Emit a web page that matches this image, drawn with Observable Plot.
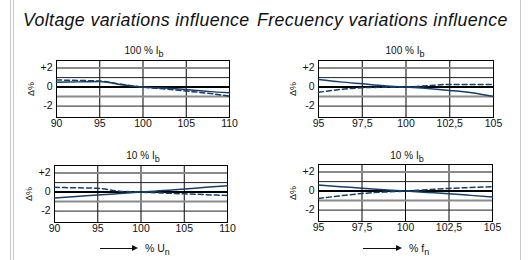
<!DOCTYPE html>
<html><head><meta charset="utf-8">
<script src="https://cdn.jsdelivr.net/npm/d3@7"></script>
<script src="https://cdn.jsdelivr.net/npm/@observablehq/plot@0.6"></script>
<style>
body{margin:0;background:#fff;font-family:"Liberation Sans",Arial,sans-serif;}
#wrap{position:relative;width:528px;height:260px;overflow:hidden;background:#fff;}
.vl{position:absolute;top:0;height:260px;width:1px;background:#c8c8c8;}
.ttl{position:absolute;font-style:italic;font-size:17.8px;letter-spacing:0.35px;color:#111;white-space:nowrap;line-height:1;}
.pt{position:absolute;font-size:10px;color:#111;white-space:nowrap;transform:translateX(-50%);line-height:1;}
.pt sub,.al sub{font-size:9px;vertical-align:-3px;line-height:0;}
.al{position:absolute;font-size:10.5px;color:#111;white-space:nowrap;line-height:1;}
.arr{position:absolute;height:1px;background:#111;}
.arr:after{content:"";position:absolute;right:-2px;top:-3px;border-left:6px solid #111;border-top:3.5px solid transparent;border-bottom:3.5px solid transparent;}
.pl{position:absolute;}
</style></head>
<body><div id="wrap">
<div class="vl" style="left:10px"></div><div class="vl" style="left:13px"></div><div class="vl" style="left:520px"></div>
<div class="ttl" style="left:23px;top:12px">Voltage variations influence</div>
<div class="ttl" style="left:257px;top:12px">Frecuency variations influence</div>
<div class="pt" style="left:144px;top:46px">100 % I<sub>b</sub></div>
<div class="pt" style="left:405px;top:46px">100 % I<sub>b</sub></div>
<div class="pt" style="left:143px;top:151px">10 % I<sub>b</sub></div>
<div class="pt" style="left:407px;top:151px">10 % I<sub>b</sub></div>
<div class="arr" style="left:100px;top:248px;width:36px"></div>
<div class="al" style="left:145px;top:243px">% U<sub>n</sub></div>
<div class="arr" style="left:363px;top:248px;width:37px"></div>
<div class="al" style="left:409px;top:243px">% f<sub>n</sub></div>
</div>
<script>
// Data
const voltX = [90, 92.5, 95, 97.5, 100, 102.5, 105, 107.5, 110];
const freqX = [95, 96.25, 97.5, 98.75, 100, 101.25, 102.5, 103.75, 105];
const volt100Solid = [0.5, 0.55, 0.6, 0.25, 0, -0.1, -0.25, -0.45, -0.6];
const volt100Dashed = [0.75, 0.7, 0.63, 0.3, 0, -0.2, -0.42, -0.65, -0.95];
const freq100Solid = [0.8, 0.55, 0.35, 0.15, 0, -0.15, -0.35, -0.6, -1.0];
const freq100Dashed = [-0.55, -0.25, -0.07, -0.02, 0, 0.15, 0.28, 0.28, 0.28];
const volt10Solid = [-0.63, -0.47, -0.3, -0.15, 0, 0.16, 0.32, 0.5, 0.66];
const volt10Dashed = [0.5, 0.45, 0.4, 0.1, 0, -0.1, -0.18, -0.27, -0.36];
const freq10Solid = [0.63, 0.47, 0.3, 0.15, 0, -0.14, -0.28, -0.45, -0.63];
const freq10Dashed = [-0.77, -0.5, -0.25, -0.1, 0, 0.15, 0.28, 0.38, 0.46];
const voltTicks = [90, 95, 100, 105, 110];
const freqTicks = [95, 97.5, 100, 102.5, 105];
const yTicks = [-2, 0, 2];
const yTickLabels = {"-2": "-2", "0": "0", "2": "+2"};
const gridY = [2, 1, 0, -1, -2];
const yLabel = "Δ%";

const navy = "#143f6c";
const gridStroke = {"2": "#8a8a8a", "1": "#222", "0": "#000", "-1": "#8a8a8a", "-2": "#222"};
const gridWidth = {"2": 2, "1": 1, "0": 2, "-1": 2, "-2": 1};

function panel(xs, solid, dashed, xTicks, xDomain, m, left, top) {
  const sd = xs.map((x, i) => ({x, y: solid[i]}));
  const dd = xs.map((x, i) => ({x, y: dashed[i]}));
  const p = Plot.plot({
    width: 264, height: 130,
    marginLeft: m[0], marginRight: m[1], marginTop: m[2], marginBottom: m[3],
    style: {fontFamily: '"Liberation Sans", Arial, sans-serif', fontSize: "10.5px", color: "#111", background: "transparent"},
    x: {domain: xDomain, ticks: xTicks, tickSize: 0, tickPadding: 2, label: null,
        tickFormat: d => String(d).replace(".", ",")},
    y: {domain: [-3.2, 2.8], ticks: yTicks, tickSize: 0, tickPadding: 4,
        tickFormat: d => yTickLabels[String(d)], label: yLabel, labelAnchor: "center", labelArrow: "none", labelOffset: 29},
    marks: [
      Plot.ruleX(xTicks, {stroke: "#000", strokeWidth: 1}),
      ...gridY.map(g => Plot.ruleY([g], {stroke: gridStroke[String(g)], strokeWidth: gridWidth[String(g)]})),
      Plot.frame({stroke: "#000", strokeWidth: 1}),
      Plot.line(dd, {x: "x", y: "y", stroke: navy, strokeWidth: 1.5, strokeDasharray: "5,3", curve: "monotone-x"}),
      Plot.line(sd, {x: "x", y: "y", stroke: navy, strokeWidth: 1.5, curve: "monotone-x"})
    ]
  });
  p.classList.add("pl");
  p.style.left = left + "px";
  p.style.top = top + "px";
  p.querySelectorAll('[aria-label="y-axis label"] text').forEach(t => t.style.fontSize = "9px");
  document.getElementById("wrap").appendChild(p);
}
panel(voltX, volt100Solid, volt100Dashed, voltTicks, [90, 110], [56, 35, 60, 13], 0, 0);
panel(freqX, freq100Solid, freq100Dashed, freqTicks, [95, 105], [54, 35, 60, 13], 264, 0);
panel(voltX, volt10Solid, volt10Dashed, voltTicks, [90, 110], [54, 37, 35, 38], 0, 130);
panel(freqX, freq10Solid, freq10Dashed, freqTicks, [95, 105], [54, 36, 34, 39], 264, 130);
</script>
</body></html>
